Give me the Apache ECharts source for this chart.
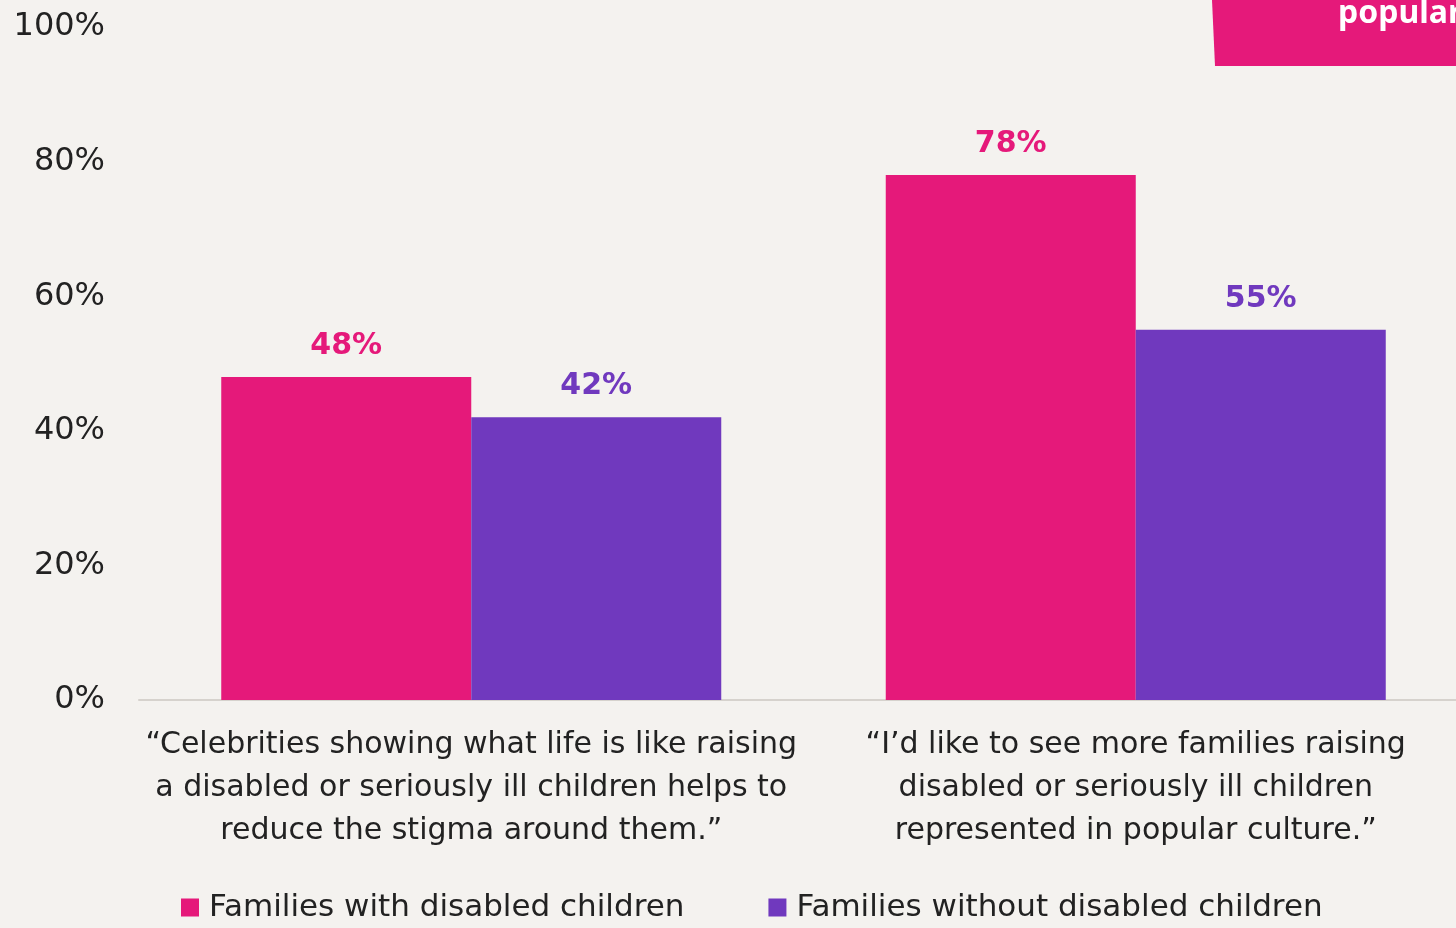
<!DOCTYPE html>
<html>
<head>
<meta charset="utf-8">
<script src="https://cdn.jsdelivr.net/npm/echarts@6/dist/echarts.min.js"></script>
<style>
  html, body { margin: 0; padding: 0; background: #f4f2ef; }
  #chart { width: 1456px; height: 928px; }
</style>
</head>
<body>
<div id="chart"></div>
<script>
  const categories = [
    '“Celebrities showing what life is like raising\na disabled or seriously ill children helps to\nreduce the stigma around them.”',
    '“I’d like to see more families raising\ndisabled or seriously ill children\nrepresented in popular culture.”'
  ];
  const withDisabled = [48, 78];
  const withoutDisabled = [42, 55];
  const seriesNames = ['Families with disabled children', 'Families without disabled children'];

  const pink = '#e5197a';
  const purple = '#7039be';
  const font = '"DejaVu Sans", sans-serif';

  const chart = echarts.init(document.getElementById('chart'));

  const option = {
    backgroundColor: '#f4f2ef',
    animation: false,
    color: [pink, purple],
    textStyle: { fontFamily: font },
    grid: {
      left: 139,
      top: 27,
      width: 1329,
      bottom: 228,
      containLabel: false,
      outerBoundsMode: 'none'
    },
    legend: {
      data: seriesNames,
      bottom: 0,
      left: 176,
      itemWidth: 18,
      itemHeight: 18,
      itemGap: 84,
      icon: 'rect',
      textStyle: { fontSize: 31, color: '#222', fontFamily: font, padding: [0, 0, 0, 5] }
    },
    xAxis: {
      type: 'category',
      data: categories,
      axisTick: { show: false },
      axisLine: { lineStyle: { color: '#d6d2cd', width: 2 } },
      axisLabel: {
        fontSize: 30,
        color: '#222',
        lineHeight: 43,
        margin: 24,
        interval: 0
      }
    },
    yAxis: {
      type: 'value',
      min: 0,
      max: 100,
      interval: 20,
      splitLine: { show: false },
      axisLine: { show: false },
      axisTick: { show: false },
      axisLabel: {
        formatter: '{value}%',
        fontSize: 32,
        color: '#222',
        margin: 34
      }
    },
    series: [
      {
        name: seriesNames[0],
        type: 'bar',
        data: withDisabled,
        barWidth: 250,
        barGap: '0%',
        label: {
          show: true,
          position: 'top',
          distance: 16,
          formatter: '{c}%',
          fontSize: 30,
          fontWeight: 'bold',
          color: pink
        }
      },
      {
        name: seriesNames[1],
        type: 'bar',
        data: withoutDisabled,
        barWidth: 250,
        barGap: '0%',
        label: {
          show: true,
          position: 'top',
          distance: 16,
          formatter: '{c}%',
          fontSize: 30,
          fontWeight: 'bold',
          color: purple
        }
      }
    ],
    graphic: [
      {
        type: 'polygon',
        shape: { points: [[1212, 0], [1456, 0], [1456, 66], [1215, 66]] },
        style: { fill: pink }
      },
      {
        type: 'text',
        left: 1338,
        top: -2,
        style: {
          text: 'popular',
          fill: '#ffffff',
          font: 'bold 32px "Noto Sans", sans-serif'
        }
      }
    ]
  };

  chart.setOption(option);
</script>
</body>
</html>
